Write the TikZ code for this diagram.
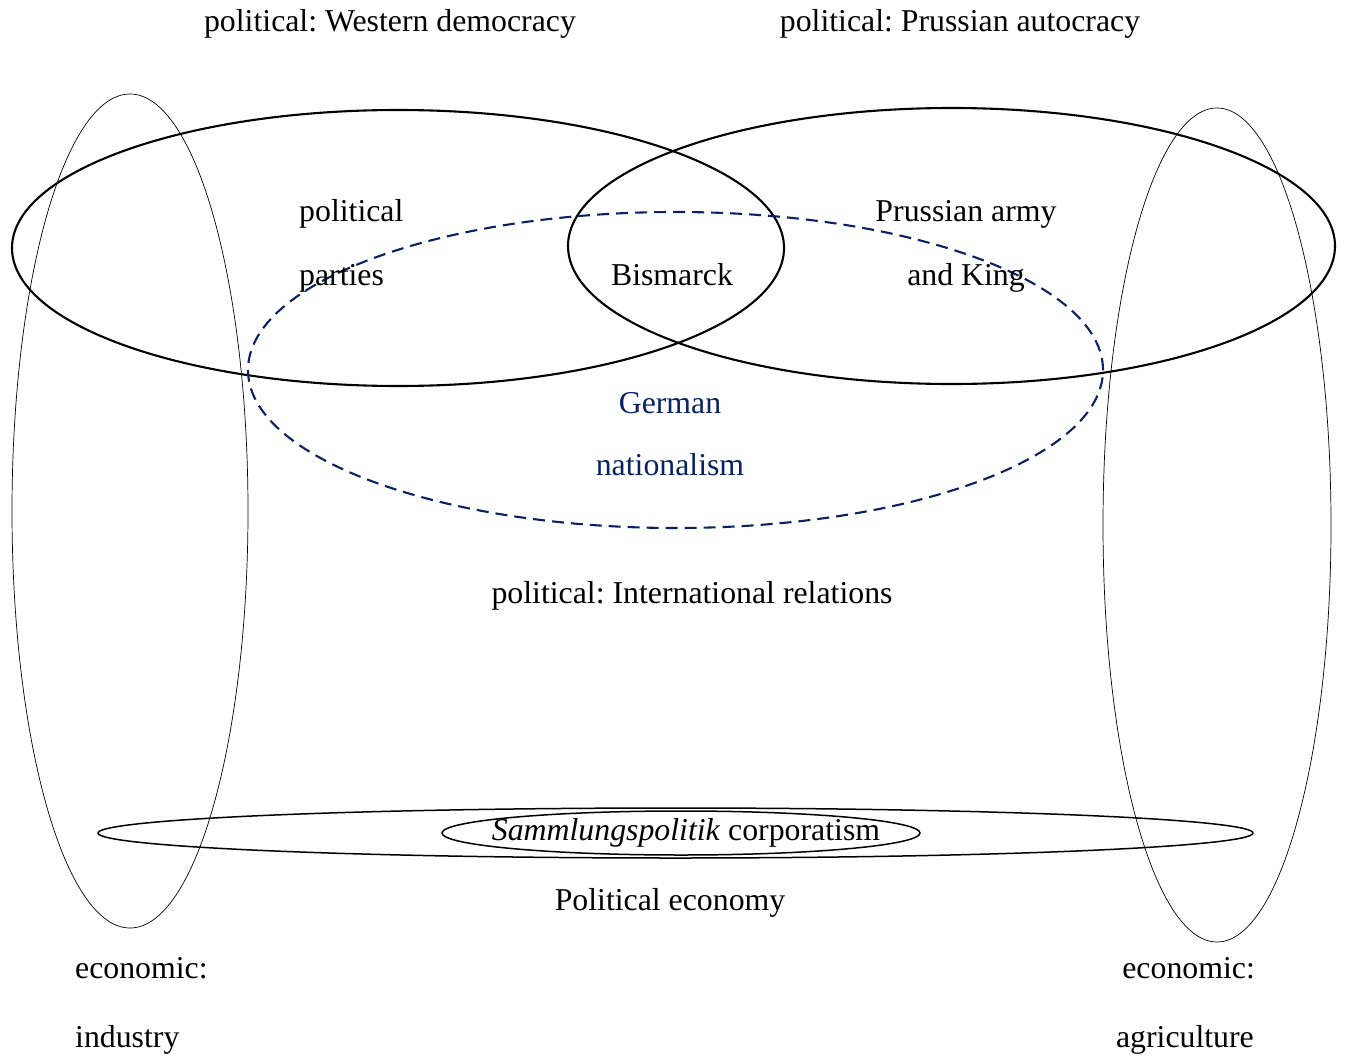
\documentclass[tikz,border=0pt]{standalone}
\usepackage{fontspec}
\setmainfont{Liberation Serif}
\frenchspacing
\definecolor{navyblue}{RGB}{8,34,98}
\begin{document}
\begin{tikzpicture}[x=1pt,y=-1pt,
  lbl/.style={inner sep=0pt, font=\fontsize{31.8}{38}\selectfont},
  thickring/.style={draw=black, line width=2.1pt},
  thinring/.style={draw=black, line width=0.7pt},
  midring/.style={draw=black, line width=1.5pt},
  natring/.style={draw=navyblue, line width=2.1pt, dash pattern=on 12pt off 7pt}]
\useasboundingbox (0,0) rectangle (1348,1059);

% political spheres
\draw[thickring] (398,248) ellipse [x radius=386pt, y radius=138pt];
\draw[thickring] (951.5,246) ellipse [x radius=383.5pt, y radius=138pt];
\draw[natring] (675.5,370) ellipse [x radius=427.5pt, y radius=158pt];

% economic spheres
\draw[thinring] (130,511) ellipse [x radius=118pt, y radius=417pt];
\draw[thinring] (1217,525) ellipse [x radius=114pt, y radius=417pt];

% political economy
\draw[midring] (675.5,833) ellipse [x radius=577.5pt, y radius=25pt];
\draw[midring] (681,833) ellipse [x radius=239pt, y radius=22pt];

% labels
\node[lbl, anchor=base] (west) at (390,32) {political: Western democracy};
\node[lbl, anchor=base] (prus) at (960,32) {political: Prussian autocracy};
\node[lbl, anchor=base west] (pp1) at (299,222) {political};
\node[lbl, anchor=base west] (pp2) at (299,285) {parties};
\node[lbl, anchor=base] (bism) at (672,285) {Bismarck};
\node[lbl, anchor=base] (army1) at (966,222) {Prussian army};
\node[lbl, anchor=base] (army2) at (966,285) {and King};
\node[lbl, anchor=base, text=navyblue] (nat1) at (670,413) {German};
\node[lbl, anchor=base, text=navyblue] (nat2) at (670,475) {nationalism};
\node[lbl, anchor=base] (intl) at (692,603) {political: International relations};
\node[lbl, anchor=base] (samm) at (686,840) {\textit{Sammlungspolitik} corporatism};
\node[lbl, anchor=base] (poleco) at (670,910) {Political economy};
\node[lbl, anchor=base west] (ind1) at (75,978) {economic:};
\node[lbl, anchor=base west] (ind2) at (75,1047) {industry};
\node[lbl, anchor=base east] (agr1) at (1255,978) {economic:};
\node[lbl, anchor=base east] (agr2) at (1254,1047) {agriculture};
\end{tikzpicture}
\end{document}
